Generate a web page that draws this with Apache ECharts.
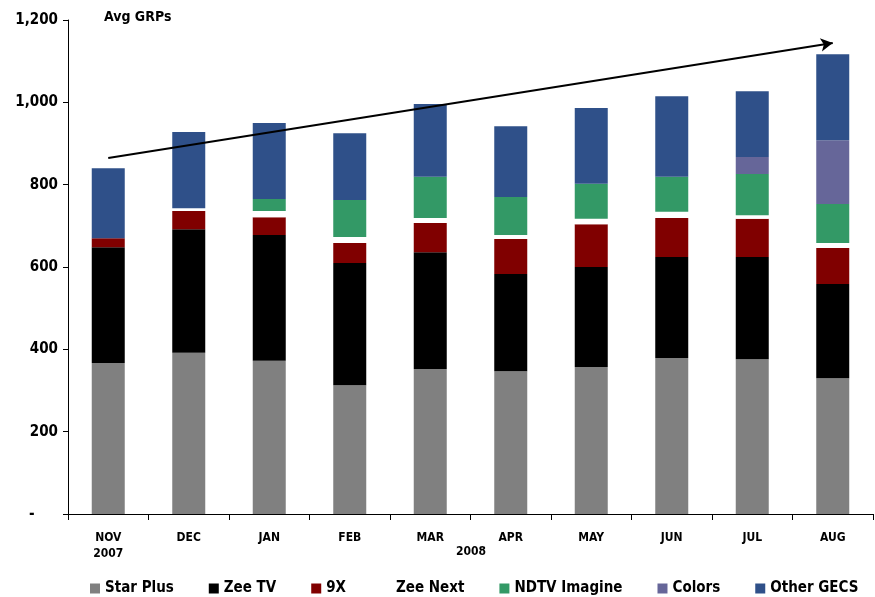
<!DOCTYPE html>
<html>
<head>
<meta charset="utf-8">
<script src="https://cdn.jsdelivr.net/npm/echarts@6/dist/echarts.min.js"></script>
<style>
  html, body { margin: 0; padding: 0; background: #fff; }
  #chart { width: 875px; height: 597px; }
</style>
</head>
<body>
<div id="chart"></div>
<script>
const months = ['NOV', 'DEC', 'JAN', 'FEB', 'MAR', 'APR', 'MAY', 'JUN', 'JUL', 'AUG']
const starPlus = [367, 392, 372, 313, 352, 347, 357, 379, 376, 330]
const zeeTv = [281, 300, 306, 297, 284, 236, 243, 245, 248, 229]
const nineX = [22, 44, 43, 48, 71, 85, 104, 95, 93, 87]
const zeeNext = [0, 7, 15, 15, 12, 10, 13, 15, 9, 12]
const ndtvImagine = [0, 0, 29, 90, 100, 92, 85, 85, 100, 95]
const colors = [0, 0, 0, 0, 0, 0, 0, 0, 41, 155]
const otherGecs = [170, 185, 185, 162, 177, 172, 184, 196, 160, 209]
const yTicks = [0, 200, 400, 600, 800, 1000, 1200]
// trend arrow, from NOV to AUG
const trendStart = 865
const trendEnd = 1144

const font = '"DejaVu Sans Condensed", "Liberation Sans", sans-serif'
const chart = echarts.init(document.getElementById('chart'))

function bar(name, data, color) {
  return {
    name: name,
    type: 'bar',
    stack: 'grp',
    barWidth: 33,
    data: data,
    itemStyle: { color: color }
  }
}

const series = [
  bar('Star Plus', starPlus, '#808080'),
  bar('Zee TV', zeeTv, '#000000'),
  bar('9X', nineX, '#800000'),
  bar('Zee Next', zeeNext, '#ffffff'),
  bar('NDTV Imagine', ndtvImagine, '#339966'),
  bar('Colors', colors, '#666699'),
  bar('Other GECS', otherGecs, '#2f5089')
]
series[6].markLine = {
  silent: true,
  symbol: ['none', 'arrow'],
  symbolSize: [10, 12],
  label: { show: false },
  lineStyle: { color: '#000', width: 2, type: 'solid' },
  data: [[
    { coord: [months[0], trendStart] },
    { coord: [months[months.length - 1], trendEnd] }
  ]]
}

chart.setOption({
  animation: false,
  textStyle: { fontFamily: font, fontWeight: 'bold', color: '#000' },
  grid: { left: 68, right: 2, top: 20, bottom: 83 },
  legend: {
    left: 85,
    top: 576,
    itemWidth: 10,
    itemHeight: 10,
    itemGap: 35,
    icon: 'rect',
    textStyle: { fontFamily: font, fontWeight: 'bold', fontSize: 15, color: '#000' },
    data: series.map(s => s.name)
  },
  xAxis: {
    type: 'category',
    data: months,
    axisLine: { lineStyle: { color: '#000', width: 1 } },
    axisTick: { show: true, length: 6, lineStyle: { color: '#000' } },
    axisLabel: {
      margin: 16,
      fontFamily: font,
      fontWeight: 'bold',
      fontSize: 12,
      color: '#000',
      lineHeight: 16,
      formatter: (v, i) => i === 0 ? v + '\n2007' : v
    }
  },
  yAxis: {
    type: 'value',
    min: 0,
    max: 1200,
    interval: 200,
    splitLine: { show: false },
    axisLine: { show: true, lineStyle: { color: '#000' } },
    axisTick: { show: true, length: 5, lineStyle: { color: '#000' } },
    axisLabel: {
      margin: 10,
      fontFamily: font,
      fontWeight: 'bold',
      fontSize: 15,
      color: '#000',
      formatter: v => yTicks.includes(v) ? (v === 0 ? '-     ' : v.toLocaleString('en-US')) : ''
    }
  },
  graphic: [
    {
      type: 'text', left: 104, top: 10,
      style: { text: 'Avg GRPs', font: 'bold 14px ' + font, fill: '#000' }
    },
    {
      type: 'text', left: 456, top: 546,
      style: { text: '2008', font: 'bold 12px ' + font, fill: '#000' }
    }
  ],
  series: series
})
</script>
</body>
</html>
